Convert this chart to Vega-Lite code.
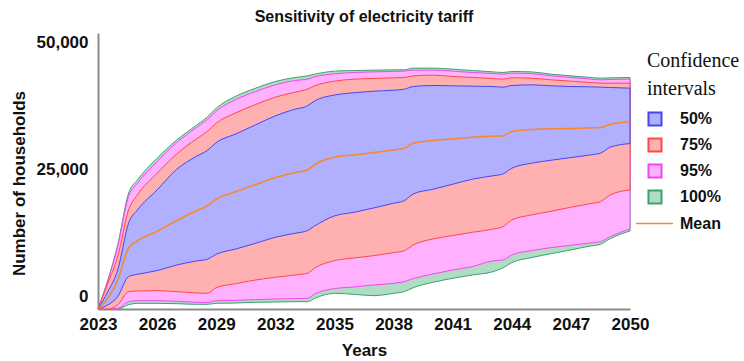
{
  "$schema": "https://vega.github.io/schema/vega-lite/v6.json",
  "autosize": "none",
  "padding": {"left": 98, "top": 33, "right": 114, "bottom": 52},
  "width": 532,
  "height": 276,
  "title": {"text": "Sensitivity of electricity tariff", "font": "Liberation Sans", "fontSize": 16, "fontWeight": "bold", "color": "#111", "anchor": "middle", "frame": "group", "baseline": "alphabetic", "offset": 12, "dy": 17},
  "config": {
    "view": {"stroke": null},
    "axis": {"labelFont": "Liberation Sans", "labelFontSize": 17, "labelFontWeight": "bold", "labelColor": "#111", "titleFont": "Liberation Sans", "titleFontSize": 17, "titleFontWeight": "bold", "titleColor": "#111", "ticks": false, "grid": false, "domainColor": "#8c8c8c", "domainWidth": 2}
  },
  "data": {"values": [
    {"year": 2023, "l100": 0, "l95": 0, "l75": 0, "l50": 0, "mean": 0, "u50": 0, "u75": 0, "u95": 0, "u100": 0},
    {"year": 2023.5, "l100": 0, "l95": 0, "l75": 0, "l50": 800, "mean": 2100, "u50": 3400, "u75": 5050, "u95": 5580, "u100": 5710},
    {"year": 2024, "l100": 0, "l95": 100, "l75": 800, "l50": 2430, "mean": 5710, "u50": 7680, "u75": 10300, "u95": 12270, "u100": 12600},
    {"year": 2024.55, "l100": 850, "l95": 1440, "l75": 3410, "l50": 6370, "mean": 11950, "u50": 16870, "u75": 19490, "u95": 22120, "u100": 22770},
    {"year": 2025, "l100": 1116, "l95": 1640, "l75": 3544, "l50": 6825, "mean": 13390, "u50": 19490, "u75": 22445, "u95": 24740, "u100": 25400},
    {"year": 2026, "l100": 1116, "l95": 1641, "l75": 3610, "l50": 7547, "mean": 15300, "u50": 23430, "u75": 26711, "u95": 29008, "u100": 29665},
    {"year": 2027, "l100": 1050, "l95": 1510, "l75": 3413, "l50": 8663, "mean": 17392, "u50": 27499, "u75": 30518, "u95": 32750, "u100": 33274},
    {"year": 2028, "l100": 919, "l95": 1313, "l75": 3150, "l50": 9451, "mean": 19361, "u50": 30059, "u75": 33471, "u95": 35703, "u100": 36162},
    {"year": 2028.54, "l100": 919, "l95": 1247, "l75": 3085, "l50": 9779, "mean": 20280, "u50": 31174, "u75": 34915, "u95": 37212, "u100": 37737},
    {"year": 2029, "l100": 1116, "l95": 1641, "l75": 4200, "l50": 10763, "mean": 21592, "u50": 32749, "u75": 36556, "u95": 38918, "u100": 39509},
    {"year": 2030, "l100": 1181, "l95": 1706, "l75": 4988, "l50": 11813, "mean": 23102, "u50": 34456, "u75": 38590, "u95": 41216, "u100": 41872},
    {"year": 2031, "l100": 1313, "l95": 1838, "l75": 5710, "l50": 12929, "mean": 24480, "u50": 36228, "u75": 40231, "u95": 42790, "u100": 43445},
    {"year": 2032, "l100": 1378, "l95": 1969, "l75": 6235, "l50": 14110, "mean": 25858, "u50": 38000, "u75": 41675, "u95": 44103, "u100": 44760},
    {"year": 2033, "l100": 1444, "l95": 2034, "l75": 6694, "l50": 14898, "mean": 26843, "u50": 39312, "u75": 42660, "u95": 44957, "u100": 45547},
    {"year": 2033.63, "l100": 1444, "l95": 2100, "l75": 7022, "l50": 15423, "mean": 27368, "u50": 39969, "u75": 43250, "u95": 45219, "u100": 45875},
    {"year": 2034, "l100": 2100, "l95": 2953, "l75": 8072, "l50": 16342, "mean": 28418, "u50": 40953, "u75": 43906, "u95": 45678, "u100": 46204},
    {"year": 2035, "l100": 3085, "l95": 4003, "l75": 9516, "l50": 18311, "mean": 29862, "u50": 42100, "u75": 44825, "u95": 46269, "u100": 46794},
    {"year": 2036, "l100": 2888, "l95": 4332, "l75": 10041, "l50": 19033, "mean": 30321, "u50": 42550, "u75": 45219, "u95": 46532, "u100": 46925},
    {"year": 2037, "l100": 2625, "l95": 4725, "l75": 10501, "l50": 19886, "mean": 30780, "u50": 42850, "u75": 45350, "u95": 46663, "u100": 46991},
    {"year": 2038, "l100": 3085, "l95": 5054, "l75": 11091, "l50": 20805, "mean": 31306, "u50": 43053, "u75": 45482, "u95": 46729, "u100": 47057},
    {"year": 2038.55, "l100": 3413, "l95": 5382, "l75": 11485, "l50": 21330, "mean": 31634, "u50": 43250, "u75": 45547, "u95": 46800, "u100": 47057},
    {"year": 2039, "l100": 4200, "l95": 5972, "l75": 12601, "l50": 22642, "mean": 32618, "u50": 43775, "u75": 45875, "u95": 46991, "u100": 47385},
    {"year": 2040, "l100": 5250, "l95": 6891, "l75": 13782, "l50": 23561, "mean": 33143, "u50": 43972, "u75": 46007, "u95": 47000, "u100": 47385},
    {"year": 2041, "l100": 6038, "l95": 7679, "l75": 14439, "l50": 24546, "mean": 33471, "u50": 43906, "u75": 45744, "u95": 46794, "u100": 47188},
    {"year": 2042, "l100": 6694, "l95": 8335, "l75": 15095, "l50": 25530, "mean": 33799, "u50": 43841, "u75": 45547, "u95": 46532, "u100": 46925},
    {"year": 2043, "l100": 7300, "l95": 9450, "l75": 15686, "l50": 26186, "mean": 33996, "u50": 43775, "u75": 45350, "u95": 46335, "u100": 46663},
    {"year": 2043.56, "l100": 8100, "l95": 9648, "l75": 16211, "l50": 26580, "mean": 34062, "u50": 43644, "u75": 45219, "u95": 46204, "u100": 46532},
    {"year": 2044, "l100": 9123, "l95": 10632, "l75": 17523, "l50": 27696, "mean": 34915, "u50": 43972, "u75": 45482, "u95": 46400, "u100": 46729},
    {"year": 2045, "l100": 10107, "l95": 11485, "l75": 18508, "l50": 28680, "mean": 35309, "u50": 44100, "u75": 45400, "u95": 46300, "u100": 46650},
    {"year": 2046, "l100": 10895, "l95": 12076, "l75": 19230, "l50": 29271, "mean": 35440, "u50": 43906, "u75": 45088, "u95": 45875, "u100": 46204},
    {"year": 2047, "l100": 11617, "l95": 12535, "l75": 20017, "l50": 29796, "mean": 35506, "u50": 43775, "u75": 44825, "u95": 45547, "u100": 45875},
    {"year": 2048, "l100": 12404, "l95": 12995, "l75": 20739, "l50": 30321, "mean": 35637, "u50": 43710, "u75": 44563, "u95": 45219, "u100": 45547},
    {"year": 2048.5, "l100": 12732, "l95": 13257, "l75": 21133, "l50": 30649, "mean": 35703, "u50": 43644, "u75": 44431, "u95": 45088, "u100": 45416},
    {"year": 2049, "l100": 13848, "l95": 14241, "l75": 22445, "l50": 31831, "mean": 36359, "u50": 43578, "u75": 44431, "u95": 45153, "u100": 45481},
    {"year": 2050, "l100": 15357, "l95": 15751, "l75": 23430, "l50": 32552, "mean": 36818, "u50": 43447, "u75": 44431, "u95": 45219, "u100": 45547}
  ]},
  "encoding": {
    "x": {"field": "year", "type": "quantitative", "scale": {"domain": [2023, 2050], "nice": false, "zero": false},
      "axis": {"title": "Years", "values": [2023, 2026, 2029, 2032, 2035, 2038, 2041, 2044, 2047, 2050], "format": "d", "labelPadding": 7, "labelFlush": false, "titleY": 41, "titleBaseline": "middle"}}
  },
  "layer": [
    {"mark": {"type": "area", "interpolate": "monotone", "opacity": 1, "strokeWidth": 1},
     "encoding": {
       "y": {"field": "l100", "type": "quantitative", "scale": {"domain": [0, 54300], "nice": false},
         "axis": {"title": "Number of households", "values": [0, 25000, 50000], "format": ",d", "labelOffset": -12.5, "labelPadding": 10, "titleX": -79, "titleY": 150, "titleAlign": "center", "titleBaseline": "middle", "titleAngle": -90}},
       "y2": {"field": "u100"},
       "color": {"datum": "100%", "type": "nominal",
         "scale": {"domain": ["50%", "75%", "95%", "100%"], "range": ["#b0b0ff", "#ffb0b0", "#ffb0ff", "#b0dcc4"]},
         "legend": {"orient": "none", "legendX": 549, "legendY": 18, "padding": 0,
           "title": ["Confidence", "intervals"], "titleFont": "Liberation Serif", "titleFontSize": 20, "titleFontWeight": "normal", "titleColor": "#111", "titleLineHeight": 28, "titlePadding": 12,
           "labelFont": "Liberation Sans", "labelFontSize": 16, "labelFontWeight": "bold", "labelColor": "#111", "labelOffset": 17,
           "symbolSize": 170, "rowPadding": 4, "symbolType": "square", "symbolStrokeWidth": 2, "symbolOpacity": 1}},
       "stroke": {"datum": "100%", "type": "nominal",
         "scale": {"domain": ["50%", "75%", "95%", "100%"], "range": ["#4646f5", "#ff4848", "#f048f0", "#3aa36a"]},
         "legend": {"orient": "none", "legendX": 549, "legendY": 18, "padding": 0,
           "title": ["Confidence", "intervals"], "titleFont": "Liberation Serif", "titleFontSize": 20, "titleFontWeight": "normal", "titleColor": "#111", "titleLineHeight": 28, "titlePadding": 12,
           "labelFont": "Liberation Sans", "labelFontSize": 16, "labelFontWeight": "bold", "labelColor": "#111", "labelOffset": 17,
           "symbolSize": 170, "rowPadding": 4, "symbolType": "square", "symbolStrokeWidth": 2, "symbolOpacity": 1}}
     }},
    {"mark": {"type": "area", "interpolate": "monotone", "opacity": 1, "strokeWidth": 1},
     "encoding": {"y": {"field": "l95", "type": "quantitative"}, "y2": {"field": "u95"}, "color": {"datum": "95%", "type": "nominal"}, "stroke": {"datum": "95%", "type": "nominal"}}},
    {"mark": {"type": "area", "interpolate": "monotone", "opacity": 1, "strokeWidth": 1},
     "encoding": {"y": {"field": "l75", "type": "quantitative"}, "y2": {"field": "u75"}, "color": {"datum": "75%", "type": "nominal"}, "stroke": {"datum": "75%", "type": "nominal"}}},
    {"mark": {"type": "area", "interpolate": "monotone", "opacity": 1, "strokeWidth": 1},
     "encoding": {"y": {"field": "l50", "type": "quantitative"}, "y2": {"field": "u50"}, "color": {"datum": "50%", "type": "nominal"}, "stroke": {"datum": "50%", "type": "nominal"}}},
    {"mark": {"type": "line", "interpolate": "monotone", "strokeWidth": 1.6, "color": "#f5892d"},
     "encoding": {"y": {"field": "mean", "type": "quantitative"},
       "strokeDash": {"datum": "Mean", "type": "nominal", "scale": {"domain": ["Mean"], "range": [[1, 0]]},
         "legend": {"orient": "none", "legendX": 537, "legendY": 171, "padding": 0, "title": null,
           "labelFont": "Liberation Sans", "labelFontSize": 16, "labelFontWeight": "bold", "labelColor": "#111", "labelOffset": 6,
           "symbolType": "stroke", "symbolSize": 1369, "symbolStrokeWidth": 1.6, "symbolStrokeColor": "#f5892d", "symbolOpacity": 1}}}}
  ]
}
